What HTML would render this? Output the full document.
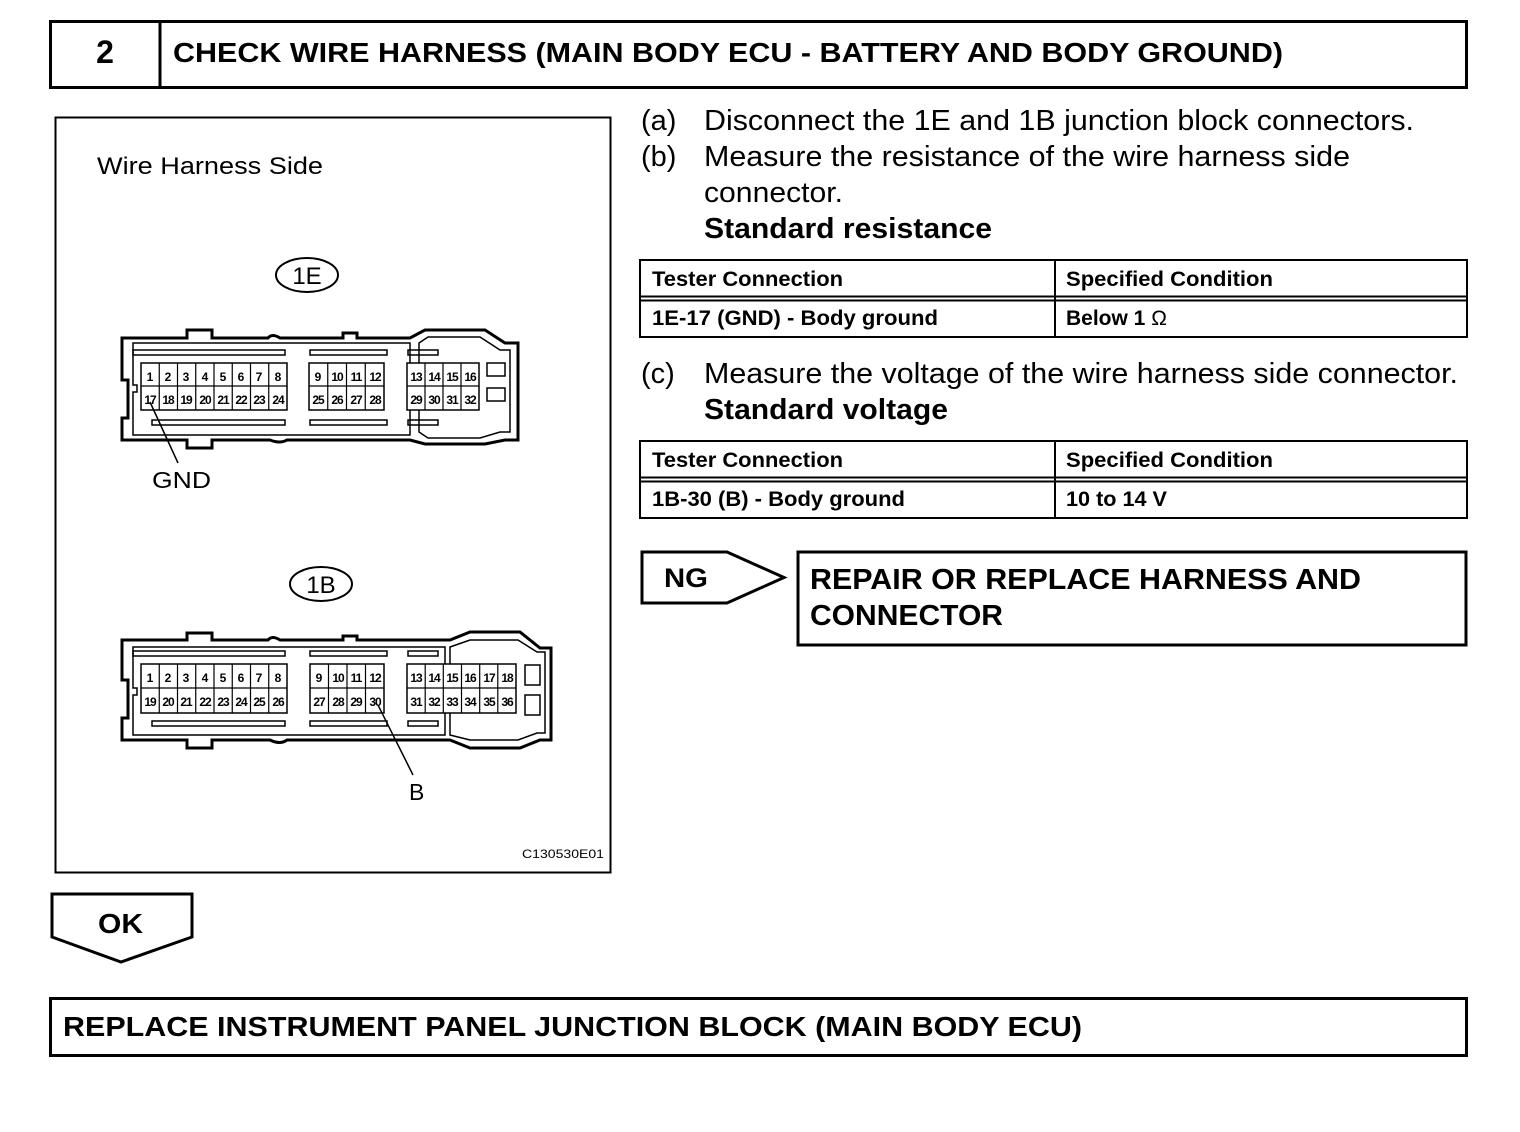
<!DOCTYPE html>
<html><head><style>
body{margin:0;background:#fff}
svg{display:block}
text{font-family:"Liberation Sans",Arial,sans-serif;fill:#000}
.b{font-weight:bold}
</style></head><body>
<svg width="1520" height="1132" viewBox="0 0 1520 1132" xmlns="http://www.w3.org/2000/svg">
<!-- header -->
<rect x="50.5" y="21.5" width="1416" height="66" fill="none" stroke="#000" stroke-width="3"/>
<line x1="160" y1="21" x2="160" y2="88" stroke="#000" stroke-width="3"/>
<text x="105" y="63" class="b" font-size="32" text-anchor="middle">2</text>
<text x="173" y="62" class="b" font-size="28" textLength="1110" lengthAdjust="spacingAndGlyphs">CHECK WIRE HARNESS (MAIN BODY ECU - BATTERY AND BODY GROUND)</text>

<!-- diagram frame -->
<rect x="55.5" y="117.5" width="555" height="755" fill="none" stroke="#000" stroke-width="2"/>
<text x="97" y="174" font-size="24" textLength="226" lengthAdjust="spacingAndGlyphs">Wire Harness Side</text>
<ellipse cx="307" cy="275" rx="31" ry="17" fill="none" stroke="#000" stroke-width="2"/>
<text x="307" y="284" font-size="24" text-anchor="middle">1E</text>
<ellipse cx="321" cy="584" rx="31" ry="17" fill="none" stroke="#000" stroke-width="2"/>
<text x="321" y="593" font-size="24" text-anchor="middle">1B</text>

<!-- 1E connector -->
<g fill="none" stroke="#000">
<path d="M122 338 H187 V330 H212 V338 H268 Q272 333 280 338 H343 V333 H357 V338 H410 L425 330 H485 L505 343 H518 V440 H505 L485 444 H425 L410 440 H287 Q280 444 270 440 H212 V448 H187 V440 H122 V418 H128 V380 H122 Z" stroke-width="3"/>
<path d="M133 343 H410 V435 H133 V392 H137 V385 H133 Z" stroke-width="1.5"/>
<path d="M419 343 L428 337 H480 L500 350 H510 V432 H500 L480 438 H428 L419 432 Z" stroke-width="1.5"/>
<rect x="133" y="350" width="152" height="5" stroke-width="1.5"/>
<rect x="310" y="350" width="77" height="5" stroke-width="1.5"/>
<rect x="408" y="350" width="30" height="5" stroke-width="1.5"/>
<rect x="152" y="420" width="133" height="5" stroke-width="1.5"/>
<rect x="310" y="420" width="77" height="5" stroke-width="1.5"/>
<rect x="408" y="420" width="30" height="5" stroke-width="1.5"/>
<rect x="487" y="363" width="18" height="13" stroke-width="1.5"/>
<rect x="487" y="388" width="18" height="13" stroke-width="1.5"/>
</g>
<g stroke="#000" fill="#fff" stroke-width="1.5">
<rect x="141" y="363" width="146" height="47"/>
<rect x="309" y="363" width="75" height="47"/>
<rect x="407" y="363" width="72" height="47"/>
</g>
<g stroke="#000" stroke-width="1.2">
<line x1="141" y1="386" x2="287" y2="386"/><line x1="309" y1="386" x2="384" y2="386"/><line x1="407" y1="386" x2="479" y2="386"/>
<line x1="159.25" y1="363" x2="159.25" y2="410"/><line x1="177.5" y1="363" x2="177.5" y2="410"/><line x1="195.75" y1="363" x2="195.75" y2="410"/><line x1="214" y1="363" x2="214" y2="410"/><line x1="232.25" y1="363" x2="232.25" y2="410"/><line x1="250.5" y1="363" x2="250.5" y2="410"/><line x1="268.75" y1="363" x2="268.75" y2="410"/>
<line x1="327.75" y1="363" x2="327.75" y2="410"/><line x1="346.5" y1="363" x2="346.5" y2="410"/><line x1="365.25" y1="363" x2="365.25" y2="410"/>
<line x1="425" y1="363" x2="425" y2="410"/><line x1="443" y1="363" x2="443" y2="410"/><line x1="461" y1="363" x2="461" y2="410"/>
</g>
<g class="b" font-size="12" text-anchor="middle">
<text x="150" y="381">1</text><text x="168" y="381">2</text><text x="186" y="381">3</text><text x="205" y="381">4</text><text x="223" y="381">5</text><text x="241" y="381">6</text><text x="259" y="381">7</text><text x="278" y="381">8</text>
<text x="150" y="404" letter-spacing="-1">17</text><text x="168" y="404" letter-spacing="-1">18</text><text x="186" y="404" letter-spacing="-1">19</text><text x="205" y="404" letter-spacing="-1">20</text><text x="223" y="404" letter-spacing="-1">21</text><text x="241" y="404" letter-spacing="-1">22</text><text x="259" y="404" letter-spacing="-1">23</text><text x="278" y="404" letter-spacing="-1">24</text>
<text x="318" y="381">9</text><text x="337" y="381" letter-spacing="-1">10</text><text x="356" y="381" letter-spacing="-1">11</text><text x="375" y="381" letter-spacing="-1">12</text>
<text x="318" y="404" letter-spacing="-1">25</text><text x="337" y="404" letter-spacing="-1">26</text><text x="356" y="404" letter-spacing="-1">27</text><text x="375" y="404" letter-spacing="-1">28</text>
<text x="416" y="381" letter-spacing="-1">13</text><text x="434" y="381" letter-spacing="-1">14</text><text x="452" y="381" letter-spacing="-1">15</text><text x="470" y="381" letter-spacing="-1">16</text>
<text x="416" y="404" letter-spacing="-1">29</text><text x="434" y="404" letter-spacing="-1">30</text><text x="452" y="404" letter-spacing="-1">31</text><text x="470" y="404" letter-spacing="-1">32</text>
</g>
<line x1="150" y1="402" x2="178" y2="463" stroke="#000" stroke-width="1.5"/>
<text x="152" y="488" font-size="23" textLength="59" lengthAdjust="spacingAndGlyphs">GND</text>

<!-- 1B connector -->
<g fill="none" stroke="#000">
<path d="M122 640 H187 V633 H212 V640 H268 Q272 635 280 640 H343 V636 H357 V640 H450 L470 632 H520 L540 648 H551 V740 H540 L520 748 H470 L450 740 H287 Q280 745 270 740 H212 V748 H187 V740 H122 V718 H128 V680 H122 Z" stroke-width="3"/>
<path d="M133 647 H445 V735 H133 V695 H137 V688 H133 Z" stroke-width="1.5"/>
<path d="M450 647 L470 640 H518 L537 652 H545 V733 H537 L518 740 H470 L450 735 Z" stroke-width="1.5"/>
<rect x="133" y="651" width="152" height="5" stroke-width="1.5"/>
<rect x="310" y="651" width="77" height="5" stroke-width="1.5"/>
<rect x="408" y="651" width="30" height="5" stroke-width="1.5"/>
<rect x="152" y="721" width="133" height="5" stroke-width="1.5"/>
<rect x="310" y="721" width="77" height="5" stroke-width="1.5"/>
<rect x="408" y="721" width="30" height="5" stroke-width="1.5"/>
<rect x="525" y="665" width="15" height="20" stroke-width="1.5"/>
<rect x="525" y="695" width="15" height="20" stroke-width="1.5"/>
</g>
<g stroke="#000" fill="#fff" stroke-width="1.5">
<rect x="141" y="664" width="146" height="49"/>
<rect x="310" y="664" width="74" height="49"/>
<rect x="407" y="664" width="109" height="49"/>
</g>
<g stroke="#000" stroke-width="1.2">
<line x1="141" y1="688" x2="287" y2="688"/><line x1="310" y1="688" x2="384" y2="688"/><line x1="407" y1="688" x2="516" y2="688"/>
<line x1="159.25" y1="664" x2="159.25" y2="713"/><line x1="177.5" y1="664" x2="177.5" y2="713"/><line x1="195.75" y1="664" x2="195.75" y2="713"/><line x1="214" y1="664" x2="214" y2="713"/><line x1="232.25" y1="664" x2="232.25" y2="713"/><line x1="250.5" y1="664" x2="250.5" y2="713"/><line x1="268.75" y1="664" x2="268.75" y2="713"/>
<line x1="328.5" y1="664" x2="328.5" y2="713"/><line x1="347" y1="664" x2="347" y2="713"/><line x1="365.5" y1="664" x2="365.5" y2="713"/>
<line x1="425.2" y1="664" x2="425.2" y2="713"/><line x1="443.3" y1="664" x2="443.3" y2="713"/><line x1="461.5" y1="664" x2="461.5" y2="713"/><line x1="479.7" y1="664" x2="479.7" y2="713"/><line x1="497.8" y1="664" x2="497.8" y2="713"/>
</g>
<g class="b" font-size="12" text-anchor="middle">
<text x="150" y="682">1</text><text x="168" y="682">2</text><text x="186" y="682">3</text><text x="205" y="682">4</text><text x="223" y="682">5</text><text x="241" y="682">6</text><text x="259" y="682">7</text><text x="278" y="682">8</text>
<text x="150" y="706" letter-spacing="-1">19</text><text x="168" y="706" letter-spacing="-1">20</text><text x="186" y="706" letter-spacing="-1">21</text><text x="205" y="706" letter-spacing="-1">22</text><text x="223" y="706" letter-spacing="-1">23</text><text x="241" y="706" letter-spacing="-1">24</text><text x="259" y="706" letter-spacing="-1">25</text><text x="278" y="706" letter-spacing="-1">26</text>
<text x="319" y="682">9</text><text x="338" y="682" letter-spacing="-1">10</text><text x="356" y="682" letter-spacing="-1">11</text><text x="375" y="682" letter-spacing="-1">12</text>
<text x="319" y="706" letter-spacing="-1">27</text><text x="338" y="706" letter-spacing="-1">28</text><text x="356" y="706" letter-spacing="-1">29</text><text x="375" y="706" letter-spacing="-1">30</text>
<text x="416" y="682" letter-spacing="-1">13</text><text x="434" y="682" letter-spacing="-1">14</text><text x="452" y="682" letter-spacing="-1">15</text><text x="470" y="682" letter-spacing="-1">16</text><text x="489" y="682" letter-spacing="-1">17</text><text x="507" y="682" letter-spacing="-1">18</text>
<text x="416" y="706" letter-spacing="-1">31</text><text x="434" y="706" letter-spacing="-1">32</text><text x="452" y="706" letter-spacing="-1">33</text><text x="470" y="706" letter-spacing="-1">34</text><text x="489" y="706" letter-spacing="-1">35</text><text x="507" y="706" letter-spacing="-1">36</text>
</g>
<line x1="378" y1="705" x2="413" y2="775" stroke="#000" stroke-width="1.5"/>
<text x="409" y="800" font-size="23">B</text>
<text x="522" y="858" font-size="12" textLength="82" lengthAdjust="spacingAndGlyphs">C130530E01</text>

<!-- right instructions -->
<g font-size="29">
<text x="641" y="130">(a)</text><text x="704" y="130" textLength="710" lengthAdjust="spacingAndGlyphs">Disconnect the 1E and 1B junction block connectors.</text>
<text x="641" y="166">(b)</text><text x="704" y="166" textLength="646" lengthAdjust="spacingAndGlyphs">Measure the resistance of the wire harness side</text>
<text x="704" y="202" textLength="139" lengthAdjust="spacingAndGlyphs">connector.</text>
<text x="704" y="238" class="b" textLength="288" lengthAdjust="spacingAndGlyphs">Standard resistance</text>
<text x="641" y="383">(c)</text><text x="704" y="383" textLength="754" lengthAdjust="spacingAndGlyphs">Measure the voltage of the wire harness side connector.</text>
<text x="704" y="419" class="b" textLength="244" lengthAdjust="spacingAndGlyphs">Standard voltage</text>
</g>

<!-- tables -->
<g fill="none" stroke="#000" stroke-width="2">
<rect x="640" y="260" width="827" height="77"/>
<line x1="1055" y1="260" x2="1055" y2="337"/>
<line x1="640" y1="296.5" x2="1467" y2="296.5"/><line x1="640" y1="300.5" x2="1467" y2="300.5"/>
<rect x="640" y="441" width="827" height="77"/>
<line x1="1055" y1="441" x2="1055" y2="518"/>
<line x1="640" y1="477.5" x2="1467" y2="477.5"/><line x1="640" y1="481.5" x2="1467" y2="481.5"/>
</g>
<g class="b" font-size="21">
<text x="652" y="286" textLength="191" lengthAdjust="spacingAndGlyphs">Tester Connection</text><text x="1066" y="286" textLength="207" lengthAdjust="spacingAndGlyphs">Specified Condition</text>
<text x="652" y="325" textLength="286" lengthAdjust="spacingAndGlyphs">1E-17 (GND) - Body ground</text><text x="1066" y="325">Below 1 <tspan font-weight="normal">Ω</tspan></text>
<text x="652" y="467" textLength="191" lengthAdjust="spacingAndGlyphs">Tester Connection</text><text x="1066" y="467" textLength="207" lengthAdjust="spacingAndGlyphs">Specified Condition</text>
<text x="652" y="506" textLength="253" lengthAdjust="spacingAndGlyphs">1B-30 (B) - Body ground</text><text x="1066" y="506" textLength="101" lengthAdjust="spacingAndGlyphs">10 to 14 V</text>
</g>

<!-- NG -->
<path d="M642 552 H727 L784 577.5 L727 603 H642 Z" fill="none" stroke="#000" stroke-width="3"/>
<text x="664" y="587" class="b" font-size="27" textLength="44" lengthAdjust="spacingAndGlyphs">NG</text>
<rect x="798" y="552" width="668" height="93" fill="#fff" stroke="#000" stroke-width="3"/>
<text x="810" y="589" class="b" font-size="29" textLength="551" lengthAdjust="spacingAndGlyphs">REPAIR OR REPLACE HARNESS AND</text>
<text x="810" y="625" class="b" font-size="29" textLength="193" lengthAdjust="spacingAndGlyphs">CONNECTOR</text>

<!-- OK -->
<path d="M52 894 H192 V937 L121 962 L52 937 Z" fill="none" stroke="#000" stroke-width="3"/>
<text x="98" y="933" class="b" font-size="28" textLength="45" lengthAdjust="spacingAndGlyphs">OK</text>

<!-- bottom -->
<rect x="50.5" y="998.5" width="1416" height="57" fill="none" stroke="#000" stroke-width="3"/>
<text x="63" y="1036" class="b" font-size="28" textLength="1019" lengthAdjust="spacingAndGlyphs">REPLACE INSTRUMENT PANEL JUNCTION BLOCK (MAIN BODY ECU)</text>
</svg>
</body></html>
